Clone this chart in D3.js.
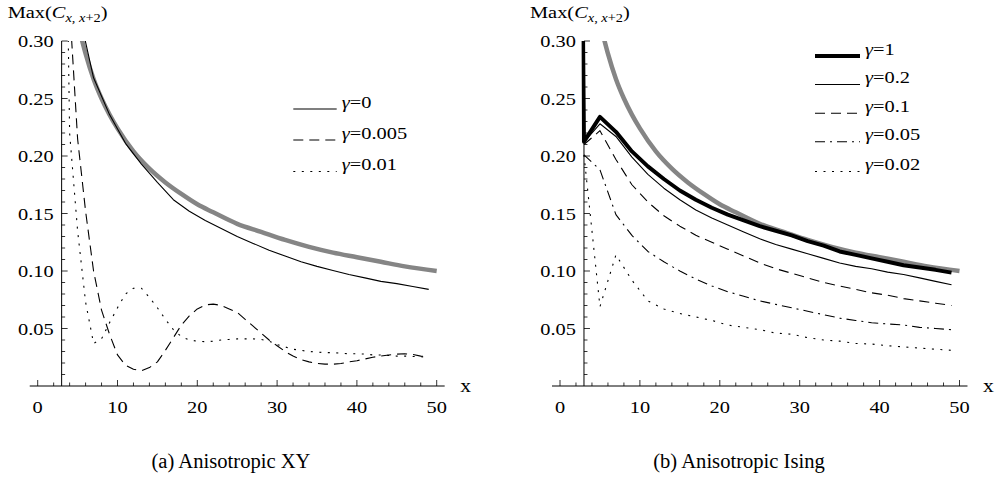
<!DOCTYPE html>
<html>
<head>
<meta charset="utf-8">
<script src="https://cdn.jsdelivr.net/npm/d3@7"></script>
<style>
body { margin: 0; background: #fff; }
text { font-family: "Liberation Serif", "Times New Roman", serif; fill: #000; }
</style>
</head>
<body>
<svg id="chart" width="997" height="494"></svg>
<script>
var width = 997, height = 494;
var stretch = 1.2;   // glyphs in the figure are a bit wider than they are tall

// tick labels
var xTicks = [0, 10, 20, 30, 40, 50];
var yTicks = [0.05, 0.10, 0.15, 0.20, 0.25, 0.30];

// grey reference curve (same in both panels)
var boundX = [5.5, 6, 7, 8, 9, 10, 12, 14, 16, 18, 20, 22, 25, 28, 31, 34, 37, 40, 43, 46, 50];
var boundY = [0.302, 0.289, 0.267, 0.250, 0.236, 0.224, 0.204, 0.189, 0.177, 0.167, 0.158, 0.151, 0.141, 0.134, 0.127, 0.121, 0.116, 0.112, 0.108, 0.104, 0.100];

// (a) anisotropic XY
var xyLabels = ["γ=0", "γ=0.005", "γ=0.01"];
var xy0X = [5, 7, 9, 11, 13, 15, 17, 19, 21, 23, 25, 27, 29, 31, 33, 35, 37, 39, 41, 43, 45, 47, 49];
var xy0Y = [0.33, 0.268, 0.236, 0.211, 0.193, 0.177, 0.162, 0.152, 0.144, 0.137, 0.130, 0.124, 0.118, 0.113, 0.108, 0.104, 0.1005, 0.097, 0.094, 0.091, 0.089, 0.0865, 0.084];
var xy005X = [4, 5, 6, 7, 8, 9, 10, 11, 12, 13, 14, 15, 16, 17, 18, 19, 20, 21, 22, 23, 24, 25, 26, 27, 28, 29, 30, 31, 32, 33, 34, 35, 36, 37, 38, 39, 40, 41, 42, 43, 44, 45, 46, 47, 48, 49];
var xy005Y = [0.33, 0.215, 0.152, 0.100, 0.066, 0.045, 0.027, 0.018, 0.0145, 0.0133, 0.016, 0.021, 0.031, 0.042, 0.053, 0.061, 0.067, 0.0705, 0.0712, 0.070, 0.067, 0.064, 0.058, 0.052, 0.046, 0.040, 0.035, 0.030, 0.026, 0.023, 0.021, 0.0197, 0.019, 0.019, 0.0195, 0.021, 0.022, 0.0235, 0.025, 0.026, 0.027, 0.0277, 0.028, 0.0275, 0.026, 0.0255];
var xy01X = [3, 4, 5, 6, 7, 8, 9, 10, 11, 12, 13, 14, 15, 16, 17, 18, 19, 20, 21, 22, 23, 24, 25, 26, 27, 28, 29, 30, 31, 32, 33, 34, 35, 36, 37, 38, 39, 40, 41, 42, 43, 44, 45, 46, 47, 48, 49];
var xy01Y = [0.70, 0.22, 0.135, 0.073, 0.037, 0.041, 0.055, 0.068, 0.080, 0.085, 0.085, 0.077, 0.068, 0.058, 0.049, 0.043, 0.040, 0.039, 0.0385, 0.039, 0.040, 0.0405, 0.041, 0.041, 0.041, 0.0405, 0.039, 0.036, 0.034, 0.032, 0.031, 0.030, 0.0295, 0.029, 0.029, 0.0285, 0.028, 0.028, 0.0278, 0.027, 0.027, 0.0265, 0.026, 0.026, 0.0257, 0.0255, 0.025];

// (b) anisotropic Ising
var isingLabels = ["γ=1", "γ=0.2", "γ=0.1", "γ=0.05", "γ=0.02"];
var oddX = [3, 5, 7, 9, 11, 13, 15, 17, 19, 21, 23, 25, 27, 29, 31, 33, 35, 37, 39, 41, 43, 45, 47, 49];
var ising1X = [2].concat(oddX);
var ising1Y = [1.0, 0.2125, 0.234, 0.221, 0.204, 0.191, 0.180, 0.170, 0.162, 0.155, 0.149, 0.144, 0.139, 0.135, 0.131, 0.126, 0.122, 0.117, 0.114, 0.111, 0.108, 0.105, 0.103, 0.101, 0.0986];
var ising02Y = [0.212, 0.228, 0.217, 0.199, 0.184, 0.172, 0.162, 0.153, 0.146, 0.140, 0.134, 0.128, 0.123, 0.119, 0.115, 0.111, 0.107, 0.104, 0.102, 0.099, 0.097, 0.094, 0.091, 0.088];
var ising01Y = [0.210, 0.222, 0.197, 0.175, 0.160, 0.148, 0.139, 0.131, 0.125, 0.119, 0.113, 0.107, 0.102, 0.098, 0.094, 0.090, 0.087, 0.084, 0.081, 0.079, 0.076, 0.074, 0.072, 0.070];
var ising005Y = [0.201, 0.188, 0.149, 0.131, 0.117, 0.108, 0.100, 0.093, 0.087, 0.082, 0.078, 0.074, 0.071, 0.068, 0.065, 0.062, 0.059, 0.057, 0.055, 0.054, 0.053, 0.051, 0.050, 0.049];
var ising002Y = [0.201, 0.069, 0.114, 0.092, 0.074, 0.067, 0.063, 0.060, 0.057, 0.053, 0.051, 0.049, 0.046, 0.045, 0.042, 0.040, 0.039, 0.037, 0.0365, 0.035, 0.034, 0.033, 0.032, 0.031];

var zip = function(xs, ys) { return xs.map(function(x, i) { return [x, ys[i]]; }); };

var DASH = "10,6", DOT = "2,6.5", DASHDOT = "10,5,2,5";

var panels = [
  {
    px0: 37.7, px1: 436.7, caption: "(a) Anisotropic XY", capX: 231,
    series: [
      {pts: zip(xy0X, xy0Y), w: 1.1, dash: null, label: xyLabels[0]},
      {pts: zip(xy005X, xy005Y), w: 1.1, dash: DASH, label: xyLabels[1]},
      {pts: zip(xy01X, xy01Y), w: 1.1, dash: DOT, label: xyLabels[2]}
    ],
    legend: {x0: 293.3, x1: 336.7, ys: [109, 140, 171.5]}
  },
  {
    px0: 560, px1: 959.5, caption: "(b) Anisotropic Ising", capX: 739,
    series: [
      {pts: zip(ising1X, ising1Y), w: 4, dash: null, label: isingLabels[0]},
      {pts: zip(oddX, ising02Y), w: 1.1, dash: null, label: isingLabels[1]},
      {pts: zip(oddX, ising01Y), w: 1.1, dash: DASH, label: isingLabels[2]},
      {pts: zip(oddX, ising005Y), w: 1.1, dash: DASHDOT, label: isingLabels[3]},
      {pts: zip(oddX, ising002Y), w: 1.1, dash: DOT, label: isingLabels[4]}
    ],
    legend: {x0: 815, x1: 860, ys: [56, 84.5, 113.3, 141.7, 171.5]}
  }
];

var svg = d3.select("#chart");
var y = d3.scaleLinear().domain([0, 0.30]).range([386, 41]);

function stretchedText(g, x, yy, str, size, anchor, sx) {
  return g.append("text")
    .attr("transform", "translate(" + x + "," + yy + ") scale(" + (sx || stretch) + ",1)")
    .attr("font-size", size)
    .attr("text-anchor", anchor || "start")
    .text(str);
}

panels.forEach(function(p, pi) {
  var x = d3.scaleLinear().domain([0, 50]).range([p.px0, p.px1]);
  var g = svg.append("g");

  // axes
  g.append("line").attr("x1", x(-1)).attr("x2", x(51)).attr("y1", y(0)).attr("y2", y(0))
    .attr("stroke", "#000").attr("stroke-width", 1);
  g.append("line").attr("x1", x(3)).attr("x2", x(3)).attr("y1", y(0)).attr("y2", y(0.30))
    .attr("stroke", "#000").attr("stroke-width", 1);

  d3.range(0, 51, 2).forEach(function(v) {
    var major = xTicks.indexOf(v) >= 0;
    g.append("line").attr("x1", x(v)).attr("x2", x(v))
      .attr("y1", y(0)).attr("y2", y(0) - (major ? 6 : 3.5))
      .attr("stroke", "#000").attr("stroke-width", 0.8);
  });
  xTicks.forEach(function(v) {
    stretchedText(g, x(v), 413, String(v), 17, "middle");
  });
  d3.range(1, 31).forEach(function(k) {
    var major = k % 5 === 0;
    g.append("line").attr("x1", x(3)).attr("x2", x(3) + (major ? 6 : 3.5))
      .attr("y1", y(k / 100)).attr("y2", y(k / 100))
      .attr("stroke", "#000").attr("stroke-width", 0.8);
  });
  yTicks.forEach(function(v) {
    stretchedText(g, x(3) - 8, y(v) + 6, v.toFixed(2), 17, "end");
  });
  stretchedText(g, x(50) + 29, 392, "x", 18, "middle");

  // axis label Max(C_{x,x+2})
  var lab = g.append("text")
    .attr("transform", "translate(" + (x(3) - 54) + ",18) scale(" + stretch + ",1)")
    .attr("font-size", 17);
  lab.append("tspan").text("Max(");
  lab.append("tspan").attr("font-style", "italic").text("C");
  lab.append("tspan").attr("font-size", 12).attr("dy", 4).attr("font-style", "italic").text("x");
  lab.append("tspan").attr("font-size", 12).text(", ");
  lab.append("tspan").attr("font-size", 12).attr("font-style", "italic").text("x");
  lab.append("tspan").attr("font-size", 12).text("+2");
  lab.append("tspan").attr("dy", -4).text(")");

  // plot area, clipped a hair left of the axis and at 0.30
  var clipId = "clip" + pi;
  svg.append("clipPath").attr("id", clipId).append("rect")
    .attr("x", x(2.7)).attr("y", y(0.30))
    .attr("width", x(51) - x(2.7)).attr("height", y(-0.01) - y(0.30));
  var plot = g.append("g").attr("clip-path", "url(#" + clipId + ")");

  var line = d3.line().x(function(d) { return x(d[0]); }).y(function(d) { return y(d[1]); });
  var smooth = d3.line().curve(d3.curveMonotoneX)
    .x(function(d) { return x(d[0]); }).y(function(d) { return y(d[1]); });

  plot.append("path").attr("d", smooth(zip(boundX, boundY)))
    .attr("fill", "none").attr("stroke", "#858585").attr("stroke-width", 4.5);

  p.series.forEach(function(s) {
    plot.append("path").attr("d", line(s.pts))
      .attr("fill", "none").attr("stroke", "#000")
      .attr("stroke-width", s.w)
      .attr("stroke-linejoin", "round")
      .attr("stroke-dasharray", s.dash);
  });

  // legend
  p.series.forEach(function(s, i) {
    var ly = p.legend.ys[i];
    g.append("line").attr("x1", p.legend.x0).attr("x2", p.legend.x1)
      .attr("y1", ly).attr("y2", ly)
      .attr("stroke", "#000").attr("stroke-width", s.w)
      .attr("stroke-dasharray", s.dash);
    var t = g.append("text")
      .attr("transform", "translate(" + (p.legend.x1 + 5) + "," + (ly - 1.5) + ") scale(" + stretch + ",1)")
      .attr("font-size", 17);
    t.append("tspan").attr("font-style", "italic").text(s.label.slice(0, 1));
    t.append("tspan").text(s.label.slice(1));
  });

  // caption
  stretchedText(svg, p.capX, 468, p.caption, 20, "middle", 1.03);
});
</script>
</body>
</html>
